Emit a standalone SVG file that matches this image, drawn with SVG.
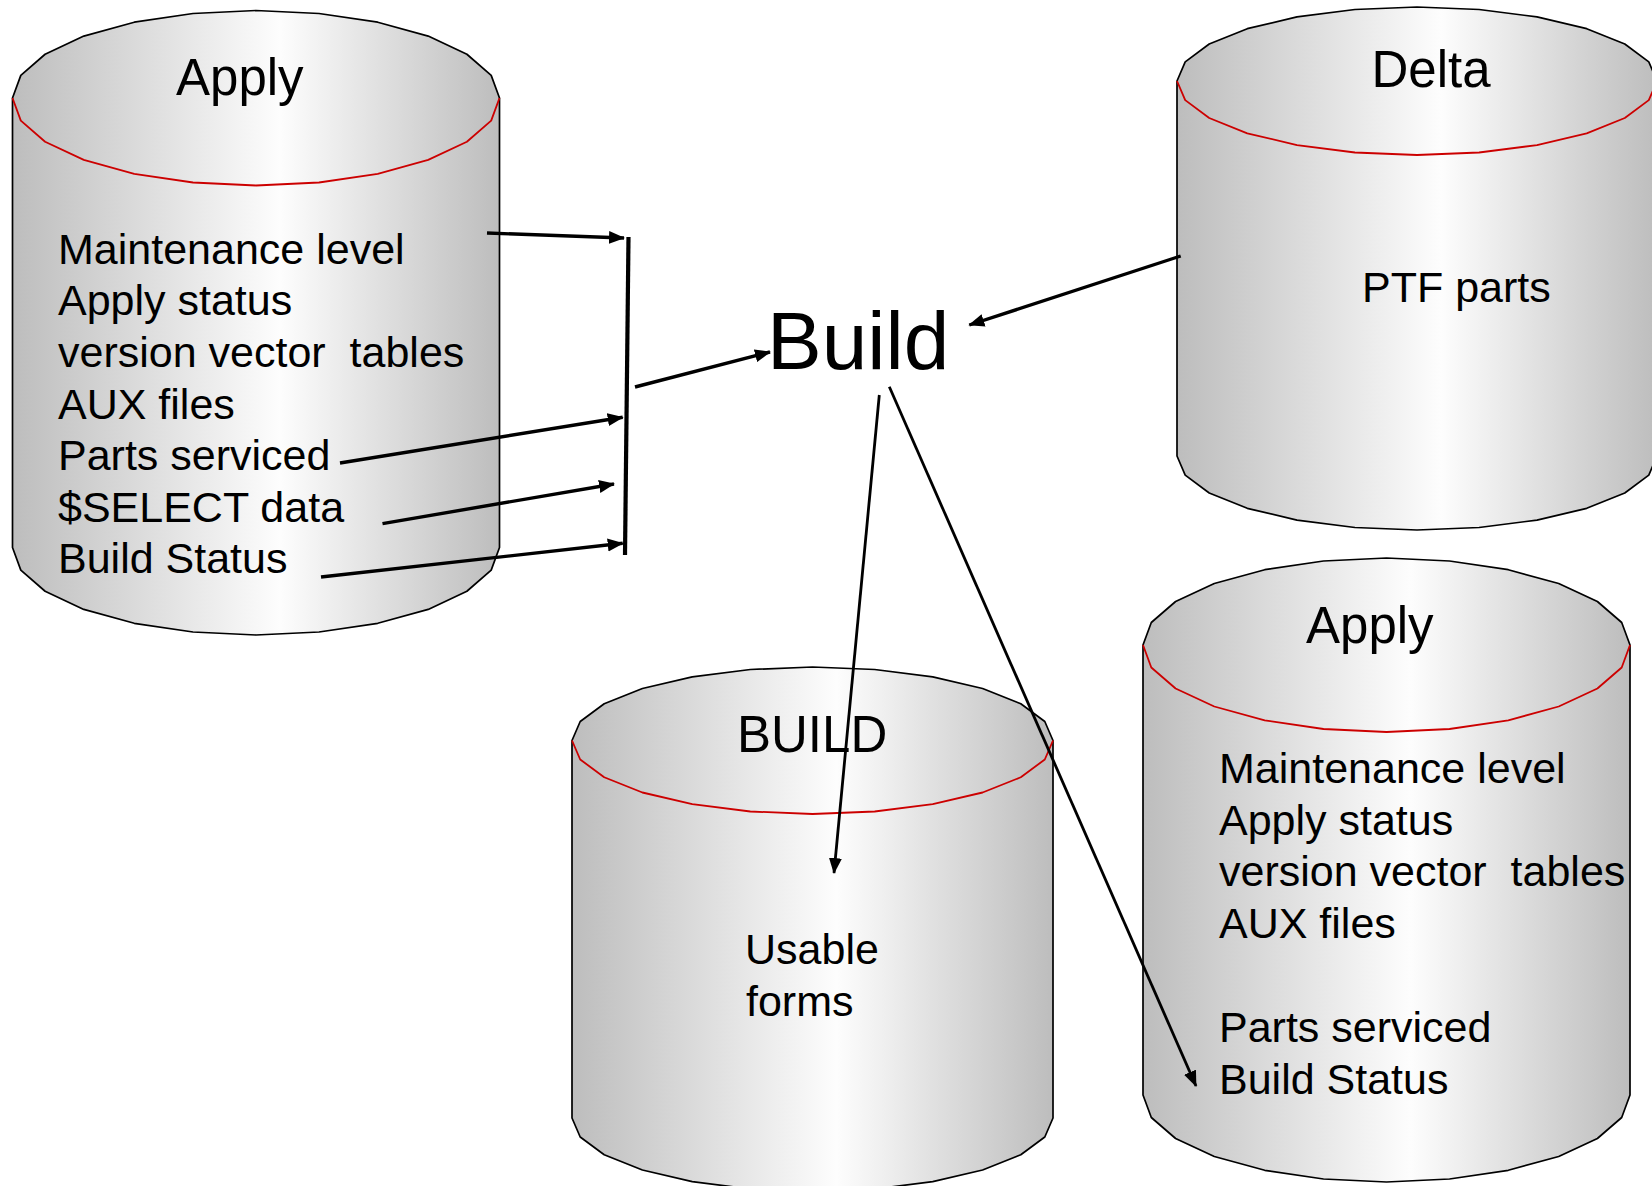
<svg xmlns="http://www.w3.org/2000/svg" width="1652" height="1186" viewBox="0 0 1652 1186">
<defs>
<linearGradient id="silver" x1="0" y1="0" x2="1" y2="0">
<stop offset="0" stop-color="#bdbdbd"/>
<stop offset="0.55" stop-color="#fdfdfd"/>
<stop offset="1" stop-color="#bdbdbd"/>
</linearGradient>
<marker id="arr" markerUnits="userSpaceOnUse" markerWidth="18" markerHeight="14" refX="15" refY="7" orient="auto">
<path d="M0,0.5 L16,7 L0,13.5 Z" fill="#000"/>
</marker>
<style>
.body{fill:url(#silver);stroke:#000;stroke-width:1.7;stroke-linejoin:round}
.rim{fill:none;stroke:#cc0000;stroke-width:1.8;stroke-linejoin:round}
.t{font-family:"Liberation Sans",Arial,sans-serif;font-size:43px;fill:#000;white-space:pre}
.title{font-family:"Liberation Sans",Arial,sans-serif;font-size:51px;fill:#000}
.big{font-family:"Liberation Sans",Arial,sans-serif;font-size:82px;fill:#000}
.c{fill:none;stroke:#000;stroke-width:3.4}
.c2{fill:none;stroke:#000;stroke-width:2.8}
</style>
</defs>
<rect width="1652" height="1186" fill="#fff"/>

<g id="apply-left">
<path class="body" d="M12.5,98 L20.8,75.4 L45.1,54.25 L83.8,36.1 L134.25,22.2 L193,13.5 L256,10.5 L319,13.5 L377.75,22.2 L428.2,36.1 L466.9,54.25 L491.2,75.4 L499.5,98 L499.5,547.5 L491.2,570.1 L466.9,591.25 L428.2,609.4 L377.75,623.3 L319,632 L256,635 L193,632 L134.25,623.3 L83.8,609.4 L45.1,591.25 L20.8,570.1 L12.5,547.5 Z"/>
<path class="rim" d="M12.5,98 L20.8,120.6 L45.1,141.75 L83.8,159.9 L134.25,173.8 L193,182.5 L256,185.5 L319,182.5 L377.75,173.8 L428.2,159.9 L466.9,141.75 L491.2,120.6 L499.5,98"/>
<text class="title" x="176" y="95">Apply</text>
<text class="t" x="58" y="263.5">Maintenance level</text>
<text class="t" x="58" y="315">Apply status</text>
<text class="t" x="58" y="367">version vector  tables</text>
<text class="t" x="58" y="418.5">AUX files</text>
<text class="t" x="58" y="470">Parts serviced</text>
<text class="t" x="58" y="521.5">$SELECT data</text>
<text class="t" x="58" y="573">Build Status</text>
</g>

<g id="delta">
<path class="body" d="M1177,81 L1185.2,61.85 L1209.2,44 L1247.3,28.7 L1297,16.9 L1354.9,9.5 L1417,7 L1479.1,9.5 L1537,16.9 L1586.7,28.7 L1624.8,44 L1648.8,61.85 L1657,81 L1657,456 L1648.8,475.15 L1624.8,493 L1586.7,508.3 L1537,520.1 L1479.1,527.5 L1417,530 L1354.9,527.5 L1297,520.1 L1247.3,508.3 L1209.2,493 L1185.2,475.15 L1177,456 Z"/>
<path class="rim" d="M1177,81 L1185.2,100.15 L1209.2,118 L1247.3,133.3 L1297,145.1 L1354.9,152.5 L1417,155 L1479.1,152.5 L1537,145.1 L1586.7,133.3 L1624.8,118 L1648.8,100.15 L1657,81"/>
<text class="title" x="1431" y="87" text-anchor="middle">Delta</text>
<text class="t" x="1362" y="302">PTF parts</text>
</g>

<g id="build-store">
<path class="body" d="M572,740.5 L580.2,721.5 L604.2,703.75 L642.4,688.5 L692.25,676.85 L750.3,669.5 L812.5,667 L874.7,669.5 L932.75,676.85 L982.6,688.5 L1020.8,703.75 L1044.8,721.5 L1053,740.5 L1053,1118 L1044.8,1137 L1020.8,1154.75 L982.6,1170 L932.75,1181.65 L874.7,1189 L812.5,1191.5 L750.3,1189 L692.25,1181.65 L642.4,1170 L604.2,1154.75 L580.2,1137 L572,1118 Z"/>
<path class="rim" d="M572,740.5 L580.2,759.5 L604.2,777.25 L642.4,792.5 L692.25,804.15 L750.3,811.5 L812.5,814 L874.7,811.5 L932.75,804.15 L982.6,792.5 L1020.8,777.25 L1044.8,759.5 L1053,740.5"/>
<text class="title" x="737" y="752">BUILD</text>
<text class="t" x="745" y="964">Usable</text>
<text class="t" x="746" y="1016">forms</text>
</g>

<g id="apply-right">
<path class="body" d="M1143,645 L1151.3,622.5 L1175.6,601.5 L1214.3,583.5 L1264.75,569.7 L1323.5,561 L1386.5,558 L1449.5,561 L1508.25,569.7 L1558.7,583.5 L1597.4,601.5 L1621.7,622.5 L1630,645 L1630,1095 L1621.7,1117.5 L1597.4,1138.5 L1558.7,1156.5 L1508.25,1170.3 L1449.5,1179 L1386.5,1182 L1323.5,1179 L1264.75,1170.3 L1214.3,1156.5 L1175.6,1138.5 L1151.3,1117.5 L1143,1095 Z"/>
<path class="rim" d="M1143,645 L1151.3,667.5 L1175.6,688.5 L1214.3,706.5 L1264.75,720.3 L1323.5,729 L1386.5,732 L1449.5,729 L1508.25,720.3 L1558.7,706.5 L1597.4,688.5 L1621.7,667.5 L1630,645"/>
<text class="title" x="1306" y="643">Apply</text>
<text class="t" x="1219" y="783">Maintenance level</text>
<text class="t" x="1219" y="834.5">Apply status</text>
<text class="t" x="1219" y="886">version vector  tables</text>
<text class="t" x="1219" y="938">AUX files</text>
<text class="t" x="1219" y="1042">Parts serviced</text>
<text class="t" x="1219" y="1093.5">Build Status</text>
</g>

<g id="build-process">
<text class="big" x="767" y="369">Build</text>
</g>

<g id="connectors">
<line class="c" x1="487" y1="233" x2="624" y2="238" marker-end="url(#arr)"/>
<line x1="628.5" y1="237" x2="625" y2="555" stroke="#000" stroke-width="4.2"/>
<line class="c" x1="635" y1="387" x2="770" y2="352" marker-end="url(#arr)"/>
<line class="c" x1="340" y1="463" x2="622.7" y2="417.3" marker-end="url(#arr)"/>
<line class="c" x1="382.5" y1="523.6" x2="614" y2="484" marker-end="url(#arr)"/>
<line class="c" x1="321" y1="577" x2="622.7" y2="543.3" marker-end="url(#arr)"/>
<line class="c" x1="1180.7" y1="256" x2="969.3" y2="325" marker-end="url(#arr)"/>
<line class="c2" x1="879.3" y1="395" x2="834" y2="873" marker-end="url(#arr)"/>
<line class="c2" x1="889.3" y1="386.7" x2="1196" y2="1086" marker-end="url(#arr)"/>
</g>
</svg>
